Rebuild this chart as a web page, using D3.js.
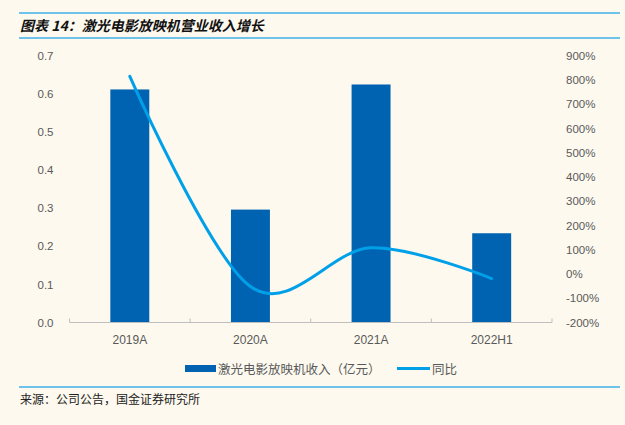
<!DOCTYPE html>
<html>
<head>
<meta charset="utf-8">
<script src="https://cdn.jsdelivr.net/npm/d3@7"></script>
<style>
  body { margin: 0; background: #fdf9ef; }
  svg { display: block; }
  text { font-family: "Liberation Sans", Arial, sans-serif; }
  .cjk { font-family: "Noto Sans CJK SC", sans-serif; }
</style>
</head>
<body>
<svg id="svg" width="625" height="425"></svg>
<script>
// data
const categories = ['2019A', '2020A', '2021A', '2022H1'];
const revenue = [0.611, 0.296, 0.624, 0.234];   // 亿元
const yoy = [8.14, -0.52, 1.08, -0.19];          // 同比
const leftTicks = [0, 0.1, 0.2, 0.3, 0.4, 0.5, 0.6, 0.7];
const rightTicks = [-2, -1, 0, 1, 2, 3, 4, 5, 6, 7, 8, 9];

const barColour = '#0063b1';
const lineColour = '#00a0e9';
const axisGrey = '#595959';

const svg = d3.select('#svg');

svg.append('rect').attr('width', 625).attr('height', 425).attr('fill', '#fdf9ef');

// title block
svg.append('line').attr('x1', 19).attr('x2', 620).attr('y1', 13).attr('y2', 13)
  .attr('stroke', '#3fb0e8').attr('stroke-width', 1.5);
svg.append('line').attr('x1', 19).attr('x2', 620).attr('y1', 38).attr('y2', 38)
  .attr('stroke', '#3fb0e8').attr('stroke-width', 1.5);
svg.append('text')
  .attr('class', 'cjk')
  .attr('x', 20).attr('y', 31)
  .style('font-size', '14px').style('font-weight', 700).style('font-style', 'italic')
  .attr('fill', '#111')
  .text('图表 14：激光电影放映机营业收入增长');

// chart area
const x0 = 69.5, x1 = 552, yTop = 55.5, yBot = 322.5;

const xScale = d3.scaleBand().domain(categories).range([x0, x1])
  .paddingInner(0.677).paddingOuter(0.3385);
const xBand = d3.scaleBand().domain(categories).range([x0, x1]);
const yLeft = d3.scaleLinear().domain([0, 0.7]).range([yBot, yTop]);
const yRight = d3.scaleLinear().domain([-2, 9]).range([yBot, yTop]);

// left axis
const leftAxis = svg.append('g').attr('transform', `translate(${x0 - 13},0)`)
  .call(d3.axisLeft(yLeft).tickValues(leftTicks).tickFormat(d3.format('.1f')).tickSize(0));
leftAxis.select('.domain').remove();
leftAxis.selectAll('text').attr('fill', axisGrey).style('font-size', '11.5px')
  .style('font-family', '"Liberation Sans", Arial, sans-serif');

// right axis
const rightAxis = svg.append('g').attr('transform', `translate(${x1 + 11},0)`)
  .call(d3.axisRight(yRight).tickValues(rightTicks).tickFormat(d => Math.round(d * 100) + '%').tickSize(0));
rightAxis.select('.domain').remove();
rightAxis.selectAll('text').attr('fill', axisGrey).style('font-size', '11.5px')
  .style('font-family', '"Liberation Sans", Arial, sans-serif');

// bars
svg.append('g').selectAll('.bar')
  .data(categories.map((c, i) => ({ c, v: revenue[i] })))
  .join('rect')
  .attr('class', 'bar')
  .attr('x', d => xScale(d.c))
  .attr('y', d => yLeft(d.v))
  .attr('width', xScale.bandwidth())
  .attr('height', d => yBot - yLeft(d.v))
  .attr('fill', barColour);

// x axis
const xAxisG = svg.append('g').attr('transform', `translate(0,${yBot})`);
xAxisG.append('line').attr('x1', x0).attr('x2', x1).attr('stroke', '#bfbfbf').attr('stroke-width', 1);
const bounds = categories.map(c => xBand(c)).concat([x1]);
xAxisG.selectAll('.tk').data(bounds).join('line')
  .attr('class', 'tk')
  .attr('x1', d => d).attr('x2', d => d).attr('y1', 0).attr('y2', -4)
  .attr('stroke', '#bfbfbf');
xAxisG.selectAll('.xl').data(categories).join('text')
  .attr('class', 'xl')
  .attr('x', d => xBand(d) + xBand.bandwidth() / 2)
  .attr('y', 21)
  .attr('text-anchor', 'middle')
  .attr('fill', axisGrey)
  .style('font-size', '12px')
  .text(d => d);

// yoy line
const line = d3.line()
  .x(d => xBand(d.c) + xBand.bandwidth() / 2)
  .y(d => yRight(d.v))
  .curve(d3.curveCardinal.tension(0));
svg.append('path')
  .datum(categories.map((c, i) => ({ c, v: yoy[i] })))
  .attr('d', line)
  .attr('fill', 'none')
  .attr('stroke', lineColour)
  .attr('stroke-width', 3)
  .attr('stroke-linecap', 'round');

// legend
const legend = svg.append('g');
legend.append('rect').attr('x', 185).attr('y', 365).attr('width', 31).attr('height', 7).attr('fill', barColour);
legend.append('text').attr('class', 'cjk').attr('x', 218).attr('y', 373.5)
  .attr('fill', axisGrey).style('font-size', '12.5px').text('激光电影放映机收入（亿元）');
legend.append('line').attr('x1', 397).attr('x2', 430).attr('y1', 368.5).attr('y2', 368.5)
  .attr('stroke', lineColour).attr('stroke-width', 3);
legend.append('text').attr('class', 'cjk').attr('x', 432).attr('y', 373.5)
  .attr('fill', axisGrey).style('font-size', '12.5px').text('同比');

// source
svg.append('line').attr('x1', 19).attr('x2', 620).attr('y1', 387).attr('y2', 387)
  .attr('stroke', '#3fb0e8').attr('stroke-width', 1.5);
svg.append('text').attr('class', 'cjk').attr('x', 20).attr('y', 404)
  .attr('fill', '#222').style('font-size', '12px')
  .text('来源：公司公告，国金证券研究所');
</script>
</body>
</html>
